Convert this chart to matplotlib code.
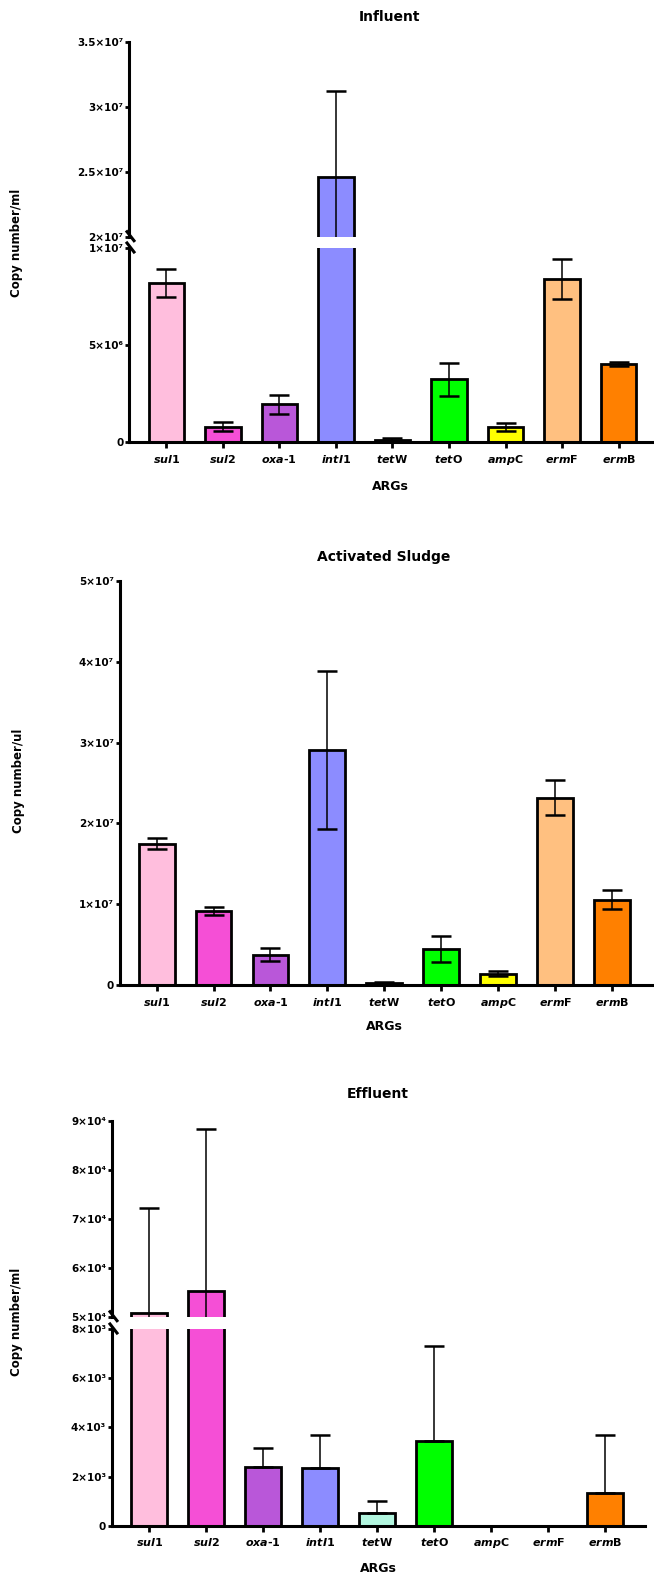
import numpy as np
import matplotlib
matplotlib.use("Agg")
import matplotlib.pyplot as plt
from matplotlib.lines import Line2D

plt.rcParams['font.family'] = ['DejaVu Sans']
plt.rcParams['font.weight'] = 'bold'
plt.rcParams['mathtext.fontset'] = 'dejavusans'

# --- data -------------------------------------------------------------
genes = ["sul1", "sul2", "oxa-1", "intI1", "tetW", "tetO", "ampC", "ermF", "ermB"]
gene_labels = [r"$\mathit{sul}$1", r"$\mathit{sul}$2", r"$\mathit{oxa}$-1", r"$\mathit{intI}$1",
               r"$\mathit{tet}$W", r"$\mathit{tet}$O", r"$\mathit{amp}$C", r"$\mathit{erm}$F",
               r"$\mathit{erm}$B"]
colors = ["#FFBEDD", "#F54FD6", "#B957D9", "#8C8CFF", "#B3F7E0",
          "#00FF00", "#FFFF00", "#FFC080", "#FF8000"]

influent_mean = [8.2e6, 0.81e6, 1.95e6, 2.457e7, 0.12e6, 3.25e6, 0.8e6, 8.4e6, 4.05e6]
influent_sd = [0.7e6, 0.24e6, 0.5e6, 0.66e7, 0.1e6, 0.85e6, 0.2e6, 1.05e6, 0.1e6]

sludge_mean = [1.75e7, 0.92e7, 0.38e7, 2.91e7, 0.025e7, 0.445e7, 0.145e7, 2.32e7, 1.06e7]
sludge_sd = [0.07e7, 0.05e7, 0.08e7, 0.98e7, 0.015e7, 0.16e7, 0.03e7, 0.215e7, 0.115e7]

effluent_mean = [5.08e4, 5.52e4, 2.37e3, 2.33e3, 0.52e3, 3.44e3, 0, 0, 1.34e3]
effluent_sd = [2.14e4, 3.31e4, 0.8e3, 1.37e3, 0.5e3, 3.85e3, 0, 0, 2.33e3]

# tick labels
inf_hi_ticks = [2e7, 2.5e7, 3e7, 3.5e7]
inf_hi_labels = ["2×10⁷", "2.5×10⁷", "3×10⁷", "3.5×10⁷"]
inf_lo_ticks = [0, 5e6, 1e7]
inf_lo_labels = ["0", "5×10⁶", "1×10⁷"]
as_ticks = [0, 1e7, 2e7, 3e7, 4e7, 5e7]
as_labels = ["0", "1×10⁷", "2×10⁷", "3×10⁷", "4×10⁷", "5×10⁷"]
eff_hi_ticks = [5e4, 6e4, 7e4, 8e4, 9e4]
eff_hi_labels = ["5×10⁴", "6×10⁴", "7×10⁴", "8×10⁴", "9×10⁴"]
eff_lo_ticks = [0, 2e3, 4e3, 6e3, 8e3]
eff_lo_labels = ["0", "2×10³", "4×10³", "6×10³", "8×10³"]

# --- figure -----------------------------------------------------------
W, H = 654, 1579
fig = plt.figure(figsize=(W / 100, H / 100), dpi=100)


def rect(left, top, right, bottom):
    return [left / W, 1 - bottom / H, (right - left) / W, (bottom - top) / H]


def style(ax, ticks, labels, ylim, xlim, bottom=True):
    ax.set_ylim(*ylim)
    ax.set_xlim(*xlim)
    ax.set_yticks(ticks)
    ax.set_yticklabels(labels, fontsize=7.5, fontweight='bold')
    for s in ["top", "right"]:
        ax.spines[s].set_visible(False)
    ax.spines["left"].set_linewidth(2.2)
    ax.spines["bottom"].set_linewidth(2.2)
    ax.tick_params(axis='y', length=3, width=2, pad=1)
    if bottom:
        ax.set_xticks(np.arange(len(genes)))
        ax.set_xticklabels(gene_labels, fontsize=8, fontweight='bold')
        ax.tick_params(axis='x', length=4.5, width=2, pad=3)
    else:
        ax.spines["bottom"].set_visible(False)
        ax.set_xticks([])


def bars(ax, mean, lo, hi):
    x = np.arange(len(mean))
    ax.bar(x, mean, width=0.63, color=colors, edgecolor='black', linewidth=2, zorder=2)
    ax.errorbar(x, mean, yerr=[lo, hi], fmt='none', ecolor='black', elinewidth=1.1,
                capsize=7, capthick=1.8, zorder=3)


def brk(x, y):
    # small "\" mark crossing the y axis at a break (pixel coordinates)
    fig.add_artist(Line2D([(x - 3) / W, (x + 4) / W], [1 - (y - 5) / H, 1 - (y + 4) / H],
                          color='black', lw=2.2))


zeros = [0] * len(genes)

# Influent (broken axis)
xl_inf = (-0.66, 8.59)
ax1a = fig.add_axes(rect(129, 41.7, 652, 236.7))
bars(ax1a, influent_mean, influent_sd, influent_sd)
style(ax1a, inf_hi_ticks, inf_hi_labels, (2e7, 3.5e7), xl_inf, bottom=False)
ax1b = fig.add_axes(rect(129, 248, 652, 442.3))
bars(ax1b, influent_mean, influent_sd, influent_sd)
style(ax1b, inf_lo_ticks, inf_lo_labels, (0, 1e7), xl_inf)
brk(130, 236.7)
brk(130, 248)
fig.text(390 / W, 1 - 17 / H, "Influent", ha='center', va='center', fontsize=10, fontweight='bold')
fig.text(390 / W, 1 - 487 / H, "ARGs", ha='center', va='center', fontsize=9, fontweight='bold')
fig.text(17 / W, 1 - 243 / H, "Copy number/ml", rotation=90, ha='center', va='center',
         fontsize=8.5, fontweight='bold')

# Activated sludge
ax2 = fig.add_axes(rect(119.6, 580.7, 652, 985.3))
bars(ax2, sludge_mean, sludge_sd, sludge_sd)
style(ax2, as_ticks, as_labels, (0, 5e7), (-0.65, 8.7))
fig.text(384 / W, 1 - 557 / H, "Activated Sludge", ha='center', va='center', fontsize=10,
         fontweight='bold')
fig.text(384 / W, 1 - 1027 / H, "ARGs", ha='center', va='center', fontsize=9, fontweight='bold')
fig.text(19 / W, 1 - 781 / H, "Copy number/ul", rotation=90, ha='center', va='center',
         fontsize=8.5, fontweight='bold')

# Effluent (broken axis)
xl_eff = (-0.66, 8.7)
ax3a = fig.add_axes(rect(111.7, 1120.7, 645, 1316.7))
bars(ax3a, effluent_mean, effluent_sd, effluent_sd)
style(ax3a, eff_hi_ticks, eff_hi_labels, (5e4, 9e4), xl_eff, bottom=False)
ax3b = fig.add_axes(rect(111.7, 1329, 645, 1525.7))
bars(ax3b, effluent_mean, zeros, effluent_sd)
style(ax3b, eff_lo_ticks, eff_lo_labels, (0, 8e3), xl_eff)
brk(113, 1316.7)
brk(113, 1329)
fig.text(378 / W, 1 - 1094 / H, "Effluent", ha='center', va='center', fontsize=10, fontweight='bold')
fig.text(378 / W, 1 - 1568 / H, "ARGs", ha='center', va='center', fontsize=9, fontweight='bold')
fig.text(17 / W, 1 - 1322 / H, "Copy number/ml", rotation=90, ha='center', va='center',
         fontsize=8.5, fontweight='bold')

fig.savefig("out.png", dpi=100)
